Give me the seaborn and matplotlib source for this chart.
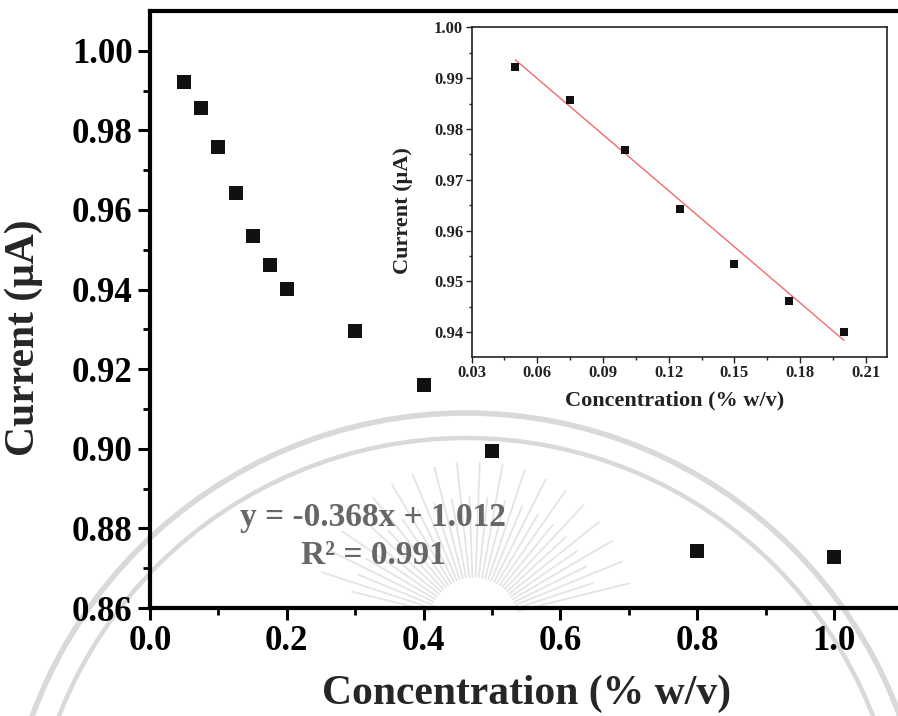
import numpy as np
import pandas as pd
import matplotlib
matplotlib.use("Agg")
import matplotlib.pyplot as plt
from matplotlib.ticker import MultipleLocator, FormatStrFormatter
from matplotlib.patches import Circle
import seaborn as sns

# Concentration (% w/v) and measured current (uA)
concentration = [0.05, 0.075, 0.10, 0.125, 0.15, 0.175, 0.20, 0.30, 0.40, 0.50, 0.80, 1.00]
current = [0.9922, 0.9857, 0.9758, 0.9642, 0.9535, 0.9461, 0.9401,
           0.9296, 0.9160, 0.8994, 0.8742, 0.8729]

# Linear range used for calibration
linear_conc = [0.05, 0.075, 0.10, 0.125, 0.15, 0.175, 0.20]
linear_current = [0.9922, 0.9857, 0.9758, 0.9642, 0.9535, 0.9461, 0.9401]

# Fitted calibration line
fit_slope = -0.368
fit_intercept = 1.012
fit_r2 = 0.991

main_xticks = [0.0, 0.2, 0.4, 0.6, 0.8, 1.0]
main_yticks = [0.86, 0.88, 0.90, 0.92, 0.94, 0.96, 0.98, 1.00]
inset_xticks = [0.03, 0.06, 0.09, 0.12, 0.15, 0.18, 0.21]
inset_yticks = [0.94, 0.95, 0.96, 0.97, 0.98, 0.99, 1.00]

sns.set_theme(style="ticks")
plt.rcParams["font.family"] = ["Liberation Serif", "DejaVu Serif"]
plt.rcParams["font.weight"] = "bold"
plt.rcParams["axes.labelweight"] = "bold"

W, H = 898, 716
fig = plt.figure(figsize=(W / 100, H / 100), dpi=100)
fig.patch.set_facecolor("white")

# Faint seal in the background
bg = fig.add_axes([0, 0, 1, 1], zorder=0)
bg.set_xlim(0, W)
bg.set_ylim(H, 0)
bg.axis("off")
seal_color = "#d9d9d9"
for r, lw in [(462, 4.0), (437, 3.2)]:
    bg.add_patch(Circle((466, 875), r, fill=False, ec=seal_color, lw=lw))
cx, cy = 474, 622
for i, ang in enumerate(np.linspace(14, 166, 38)):
    a = np.deg2rad(ang)
    r0, r1 = 45, (160 if i % 2 == 0 else 125)
    bg.plot([cx + r0 * np.cos(a), cx + r1 * np.cos(a)],
            [cy - r0 * np.sin(a), cy - r1 * np.sin(a)],
            color="#e4e4e4", lw=1.3, solid_capstyle="round")

# Main axes
ax = fig.add_axes([150 / W, (H - 608) / H, 752.4 / W, (608 - 11.3) / H], zorder=1)
ax.set_facecolor("none")
df = pd.DataFrame({"conc": concentration, "cur": current})
sns.scatterplot(data=df, x="conc", y="cur", marker="s", s=88, color="#111111",
                linewidth=0, ax=ax, zorder=3)
ax.set_xlim(0, 1.1)
ax.set_ylim(0.86, 1.0099)
ax.set_xticks(main_xticks)
ax.set_yticks(main_yticks)
ax.xaxis.set_minor_locator(MultipleLocator(0.1))
ax.yaxis.set_minor_locator(MultipleLocator(0.01))
ax.xaxis.set_major_formatter(FormatStrFormatter("%.1f"))
ax.yaxis.set_major_formatter(FormatStrFormatter("%.2f"))
for side in ["left", "bottom", "top"]:
    ax.spines[side].set_linewidth(3.0)
    ax.spines[side].set_color("black")
ax.spines["right"].set_visible(False)
ax.tick_params(which="major", direction="out", length=8.5, width=2.2,
               labelsize=25, pad=4, colors="black")
ax.tick_params(which="minor", direction="out", length=5, width=2.0, colors="black")
ax.tick_params(top=False, right=False, which="both")
for lab in ax.get_xticklabels() + ax.get_yticklabels():
    lab.set_fontweight("bold")
ax.set_xlabel("Concentration (% w/v)", fontsize=30, fontweight="bold")
ax.set_ylabel("Current (\u03bcA)", fontsize=30, fontweight="bold")
ax.xaxis.set_label_coords(0.501, -0.112)
ax.yaxis.set_label_coords(-0.142, 0.453)

eq_text = f"y = {fit_slope:.3f}x + {fit_intercept:.3f}"
ax.text(0.3255, 0.8828, eq_text, fontsize=24, fontweight="bold", color="#676767",
        ha="center", va="center", zorder=2)
ax.text(0.327, 0.8732, f"R\u00b2 = {fit_r2:.3f}", fontsize=24, fontweight="bold",
        color="#676767", ha="center", va="center", zorder=2)

# Inset: linear range with fitted line
ins = fig.add_axes([471.5 / W, (H - 356.7) / H, 415.3 / W, 329.4 / H], zorder=2)
ins.set_facecolor("white")
ldf = pd.DataFrame({"conc": linear_conc, "cur": linear_current})
fit_x = [linear_conc[0], linear_conc[-1]]
fit_df = pd.DataFrame({"conc": fit_x,
                       "cur": [fit_slope * v + fit_intercept for v in fit_x]})
sns.lineplot(data=fit_df, x="conc", y="cur", color="#f26a6a", lw=1.0, ax=ins, zorder=2)
sns.scatterplot(data=ldf, x="conc", y="cur", marker="s", s=34, color="#111111",
                linewidth=0, ax=ins, zorder=3)
ins.set_xlim(0.03, 0.2195)
ins.set_ylim(0.9352, 1.0)
ins.set_xticks(inset_xticks)
ins.set_yticks(inset_yticks)
ins.xaxis.set_minor_locator(MultipleLocator(0.015))
ins.yaxis.set_minor_locator(MultipleLocator(0.005))
ins.xaxis.set_major_formatter(FormatStrFormatter("%.2f"))
ins.yaxis.set_major_formatter(FormatStrFormatter("%.2f"))
for side in ins.spines.values():
    side.set_linewidth(1.2)
    side.set_color("#222222")
ins.tick_params(which="major", direction="out", length=4, width=1.0,
                labelsize=12, pad=2, colors="#222222")
ins.tick_params(which="minor", direction="out", length=2.5, width=1.0, colors="#222222")
for lab in ins.get_xticklabels() + ins.get_yticklabels():
    lab.set_fontweight("bold")
ins.set_xlabel("Concentration (% w/v)", fontsize=16, fontweight="bold", color="#222222")
ins.set_ylabel("Current (\u03bcA)", fontsize=16, fontweight="bold", color="#222222")
ins.xaxis.set_label_coords(0.49, -0.104)
ins.yaxis.set_label_coords(-0.141, 0.445)

fig.savefig("out.png", dpi=100)
